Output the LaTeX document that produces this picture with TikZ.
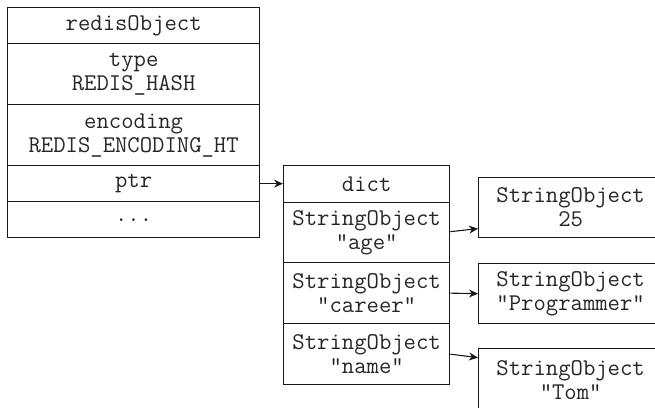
\documentclass[tikz,border=0pt]{standalone}
\usetikzlibrary{arrows.meta}
\begin{document}
\begin{tikzpicture}[x=1pt,y=-1pt,
  cell/.style={draw=black!90, line width=1.3pt, anchor=north west, inner sep=0pt, align=center,
    font=\ttfamily\fontsize{24}{24}\selectfont, text=black!85},
  link/.style={draw=black!90, line width=1.1pt, -{Stealth[length=9pt,width=8pt]}}]
\useasboundingbox (0,0) rectangle (655,407);
\clip (0,0) rectangle (655,407);
% redisObject
\node[cell, minimum width=252pt, minimum height=36pt] (ro) at (7,7) {redisObject};
\node[cell, minimum width=252pt, minimum height=61pt] (type) at (7,43) {type\\REDIS\_HASH};
\node[cell, minimum width=252pt, minimum height=61pt] (enc) at (7,104) {encoding\\REDIS\_ENCODING\_HT};
\node[cell, minimum width=252pt, minimum height=36pt] (ptr) at (7,165) {ptr};
\node[cell, minimum width=252pt, minimum height=36pt] (dots) at (7,201) {...};
% dict
\node[cell, minimum width=166pt, minimum height=37pt] (dict) at (283,165) {dict};
\node[cell, minimum width=166pt, minimum height=60pt] (age) at (283,202) {StringObject\\"age"};
\node[cell, minimum width=166pt, minimum height=61pt] (career) at (283,262) {StringObject\\"career"};
\node[cell, minimum width=166pt, minimum height=61pt] (name) at (283,323) {StringObject\\"name"};
% values
\node[cell, minimum width=184pt, minimum height=60pt, text width=170pt] (v1) at (478,177) {StringObject\\25};
\node[cell, minimum width=184pt, minimum height=60pt, text width=170pt] (v2) at (478,263) {StringObject\\"Programmer"};
\node[cell, minimum width=184pt, minimum height=62pt, text width=170pt] (v3) at (478,348) {StringObject\\"Tom"};
% links
\draw[link] (ptr.east) -- (dict.west |- ptr.east);
\draw[link] ([yshift=1pt]age.east) -- ([yshift=-21pt]v1.west);
\draw[link] (career.east) -- (v2.west);
\draw[link] (name.east) -- ([yshift=22pt]v3.west);
\end{tikzpicture}
\end{document}
